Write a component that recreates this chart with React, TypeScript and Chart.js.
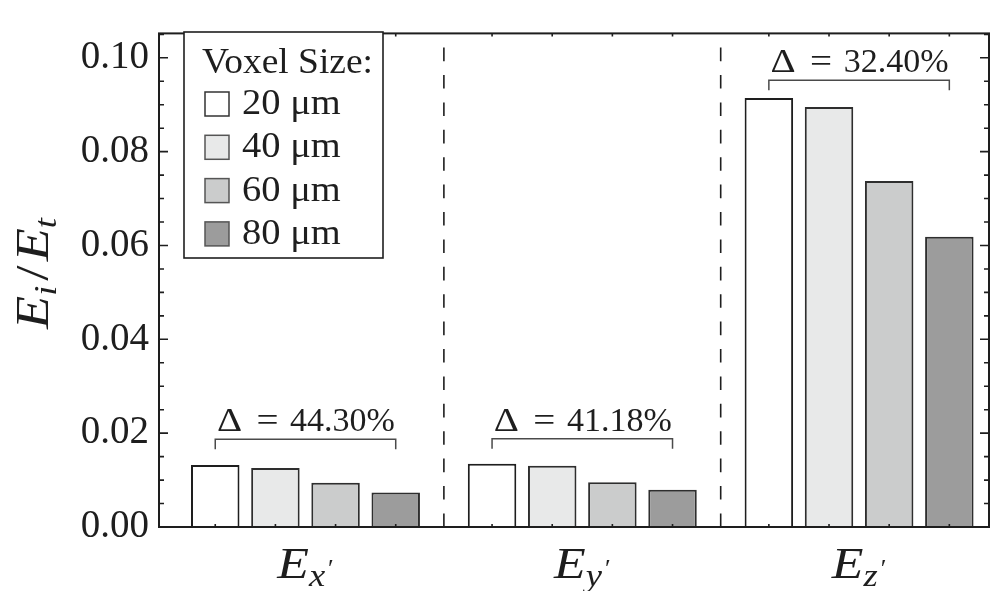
import React, { useEffect, useRef } from "react";
import { Chart, registerables } from "chart.js";

Chart.register(...registerables);

// ---- data ----
const groupSubscripts = ["x", "y", "z"];
const voxelSizes = ["20 μm", "40 μm", "60 μm", "80 μm"];
const values20 = [0.01321, 0.01348, 0.09145];
const values40 = [0.0126, 0.01307, 0.08954];
const values60 = [0.00944, 0.00952, 0.07374];
const values80 = [0.00736, 0.00793, 0.06184];
const deltaLabels = ["44.30%", "41.18%", "32.40%"];
const bracketLevels = [0.0187, 0.0188, 0.0952];
const yTickValues = [0, 0.02, 0.04, 0.06, 0.08, 0.1];
const groupDividers = [0.5, 1.5];

const seriesValues = [values20, values40, values60, values80];
const fillColors = ["#ffffff", "#e8e9e9", "#cbcccc", "#9c9c9c"];
const borderColors = ["#1e1e1e", "#2e2e2e", "#2e2e2e", "#2e2e2e"];

const SERIF = '"Liberation Serif", "DejaVu Serif", serif';
const INK = "#1e1e1e";

// draw text widened horizontally (Computer-Modern-like proportions); returns advance
function wideText(ctx: CanvasRenderingContext2D, txt: string, x: number, y: number, sx: number) {
  const w = ctx.measureText(txt).width;
  ctx.save();
  ctx.translate(x, y);
  ctx.scale(sx, 1);
  ctx.fillText(txt, 0, 0);
  ctx.restore();
  return w * sx;
}

const customPlugin = {
  id: "custom",
  afterDraw(chart: any) {
    const ctx = chart.ctx as CanvasRenderingContext2D;
    const area = chart.chartArea;
    const xs = chart.scales.x;
    const ys = chart.scales.y;
    ctx.save();

    // dashed dividers
    ctx.strokeStyle = INK;
    ctx.lineWidth = 1.6;
    ctx.setLineDash([13.6, 13.8]);
    groupDividers.forEach((d) => {
      const px = xs.getPixelForValue(d);
      ctx.beginPath();
      ctx.moveTo(px, area.bottom);
      ctx.lineTo(px, area.top);
      ctx.stroke();
    });
    ctx.setLineDash([]);

    // frame
    ctx.lineWidth = 2;
    ctx.strokeStyle = INK;
    ctx.strokeRect(area.left, area.top, area.right - area.left, area.bottom - area.top);

    // y ticks (major + minor) on both sides
    ctx.lineWidth = 1.6;
    const maxV = ys.max;
    for (let k = 0; k * 0.005 <= maxV + 1e-9; k++) {
      const v = k * 0.005;
      const py = ys.getPixelForValue(v);
      const len = k % 4 === 0 ? 9 : 5;
      ctx.beginPath();
      ctx.moveTo(area.left, py);
      ctx.lineTo(area.left + len, py);
      ctx.moveTo(area.right, py);
      ctx.lineTo(area.right - len, py);
      ctx.stroke();
    }

    // x ticks at bar centres (top and bottom)
    chart.data.datasets.forEach((_: any, i: number) => {
      const meta = chart.getDatasetMeta(i);
      meta.data.forEach((el: any) => {
        ctx.beginPath();
        ctx.moveTo(el.x, area.bottom);
        ctx.lineTo(el.x, area.bottom - 3);
        ctx.moveTo(el.x, area.top);
        ctx.lineTo(el.x, area.top + 3);
        ctx.stroke();
      });
    });

    // brackets and delta labels
    const first = chart.getDatasetMeta(0);
    const last = chart.getDatasetMeta(chart.data.datasets.length - 1);
    bracketLevels.forEach((lvl, j) => {
      const x1 = first.data[j].x;
      const x2 = last.data[j].x;
      const py = ys.getPixelForValue(lvl);
      ctx.strokeStyle = "#4a4a4a";
      ctx.lineWidth = 1.5;
      ctx.beginPath();
      ctx.moveTo(x1, py + 10);
      ctx.lineTo(x1, py);
      ctx.lineTo(x2, py);
      ctx.lineTo(x2, py + 10);
      ctx.stroke();
      const cx = xs.getPixelForValue(j);
      const base = py - 8;
      ctx.fillStyle = INK;
      ctx.textBaseline = "alphabetic";
      ctx.textAlign = "center";
      ctx.font = `34px ${SERIF}`;
      ctx.save();
      ctx.translate(cx - 76, base);
      ctx.scale(1.15, 1);
      ctx.fillText("Δ", 0, 0);
      ctx.restore();
      ctx.save();
      ctx.translate(cx - 38, base);
      ctx.scale(1.15, 1);
      ctx.fillText("=", 0, 0);
      ctx.restore();
      ctx.fillText(deltaLabels[j], cx + 37, base);
    });

    // x category labels E_{x'}
    const SX = 1.18;
    groupSubscripts.forEach((s, j) => {
      const cx = xs.getPixelForValue(j);
      ctx.font = `italic 44px ${SERIF}`;
      const wE = ctx.measureText("E").width * SX;
      ctx.font = `italic 31px ${SERIF}`;
      const wS = ctx.measureText(s).width * SX;
      ctx.font = `26px ${SERIF}`;
      const wP = ctx.measureText("′").width;
      const total = wE + wS + wP + 3;
      let x0 = cx - total / 2;
      const base = 578;
      ctx.textAlign = "left";
      ctx.fillStyle = INK;
      ctx.font = `italic 44px ${SERIF}`;
      wideText(ctx, "E", x0, base, SX);
      x0 += wE;
      ctx.font = `italic 31px ${SERIF}`;
      wideText(ctx, s, x0, base + 8, SX);
      x0 += wS + 3;
      ctx.font = `26px ${SERIF}`;
      ctx.fillText("′", x0, base - 1);
    });

    // y title E_i / E_t
    ctx.save();
    ctx.translate(48, 329);
    ctx.rotate(-Math.PI / 2);
    ctx.textAlign = "left";
    ctx.fillStyle = INK;
    let t = 0;
    ctx.font = `italic 46px ${SERIF}`;
    t += wideText(ctx, "E", t, 0, SX);
    ctx.font = `italic 31px ${SERIF}`;
    t += wideText(ctx, "i", t, 8, SX) + 5;
    ctx.font = `46px ${SERIF}`;
    t += wideText(ctx, "/", t, 0, 1.2) + 4;
    ctx.font = `italic 46px ${SERIF}`;
    t += wideText(ctx, "E", t, 0, SX);
    ctx.font = `italic 31px ${SERIF}`;
    wideText(ctx, "t", t, 8, SX);
    ctx.restore();

    // legend
    const lx = 184, ly = 32, lw = 199, lh = 226;
    ctx.fillStyle = "#ffffff";
    ctx.fillRect(lx, ly, lw, lh);
    ctx.strokeStyle = INK;
    ctx.lineWidth = 1.6;
    ctx.strokeRect(lx, ly, lw, lh);
    ctx.fillStyle = INK;
    ctx.textAlign = "left";
    ctx.textBaseline = "alphabetic";
    ctx.font = `35px ${SERIF}`;
    wideText(ctx, "Voxel Size:", 202, 73, 1.07);
    chart.data.datasets.forEach((ds: any, i: number) => {
      const cy = 104 + i * 43.3;
      ctx.fillStyle = ds.backgroundColor;
      ctx.fillRect(205, cy - 12, 24, 24);
      ctx.strokeStyle = i === 0 ? "#333" : "#555";
      ctx.lineWidth = 1.5;
      ctx.strokeRect(205, cy - 12, 24, 24);
      ctx.fillStyle = INK;
      ctx.textBaseline = "middle";
      ctx.font = `35px ${SERIF}`;
      wideText(ctx, ds.label, 242, cy + 1, 1.1);
    });

    ctx.restore();
  },
};

export default function App() {
  const canvasRef = useRef<HTMLCanvasElement | null>(null);

  useEffect(() => {
    if (!canvasRef.current) return;
    const datasets = voxelSizes.map((label, i) => ({
      label,
      data: seriesValues[i].map((v, j) => ({ x: j, y: v })),
      backgroundColor: fillColors[i],
      borderColor: borderColors[i],
      borderWidth: 2,
      categoryPercentage: 0.8693,
      barPercentage: 0.806,
    }));
    const chart = new Chart(canvasRef.current, {
      type: "bar",
      data: { datasets },
      options: {
        animation: false,
        responsive: true,
        maintainAspectRatio: false,
        layout: { padding: { top: 14, right: 3, bottom: 64, left: 0 } },
        plugins: {
          legend: { display: false },
          tooltip: { enabled: false },
        },
        scales: {
          x: {
            type: "linear",
            min: -0.5292,
            max: 2.4693,
            offset: false,
            grid: { offset: false },
            display: false,
            afterBuildTicks: (s: any) => {
              s.ticks = [0, 1, 2].map((v) => ({ value: v }));
            },
          },
          y: {
            type: "linear",
            min: 0,
            max: 0.1052,
            grid: { display: false, drawTicks: false },
            border: { display: false },
            afterFit: (s: any) => {
              s.width = 159;
            },
            afterBuildTicks: (s: any) => {
              s.ticks = yTickValues.map((v) => ({ value: v }));
            },
            ticks: {
              autoSkip: false,
              padding: 10,
              color: INK,
              font: { family: SERIF, size: 39 },
              callback: (v: any) => Number(v).toFixed(2),
            },
          },
        },
      } as any,
      plugins: [customPlugin],
    });
    return () => chart.destroy();
  }, []);

  return (
    <div style={{ position: "fixed", left: 0, top: 0, width: 992, height: 591, background: "#fff" }}>
      <canvas ref={canvasRef} />
    </div>
  );
}
